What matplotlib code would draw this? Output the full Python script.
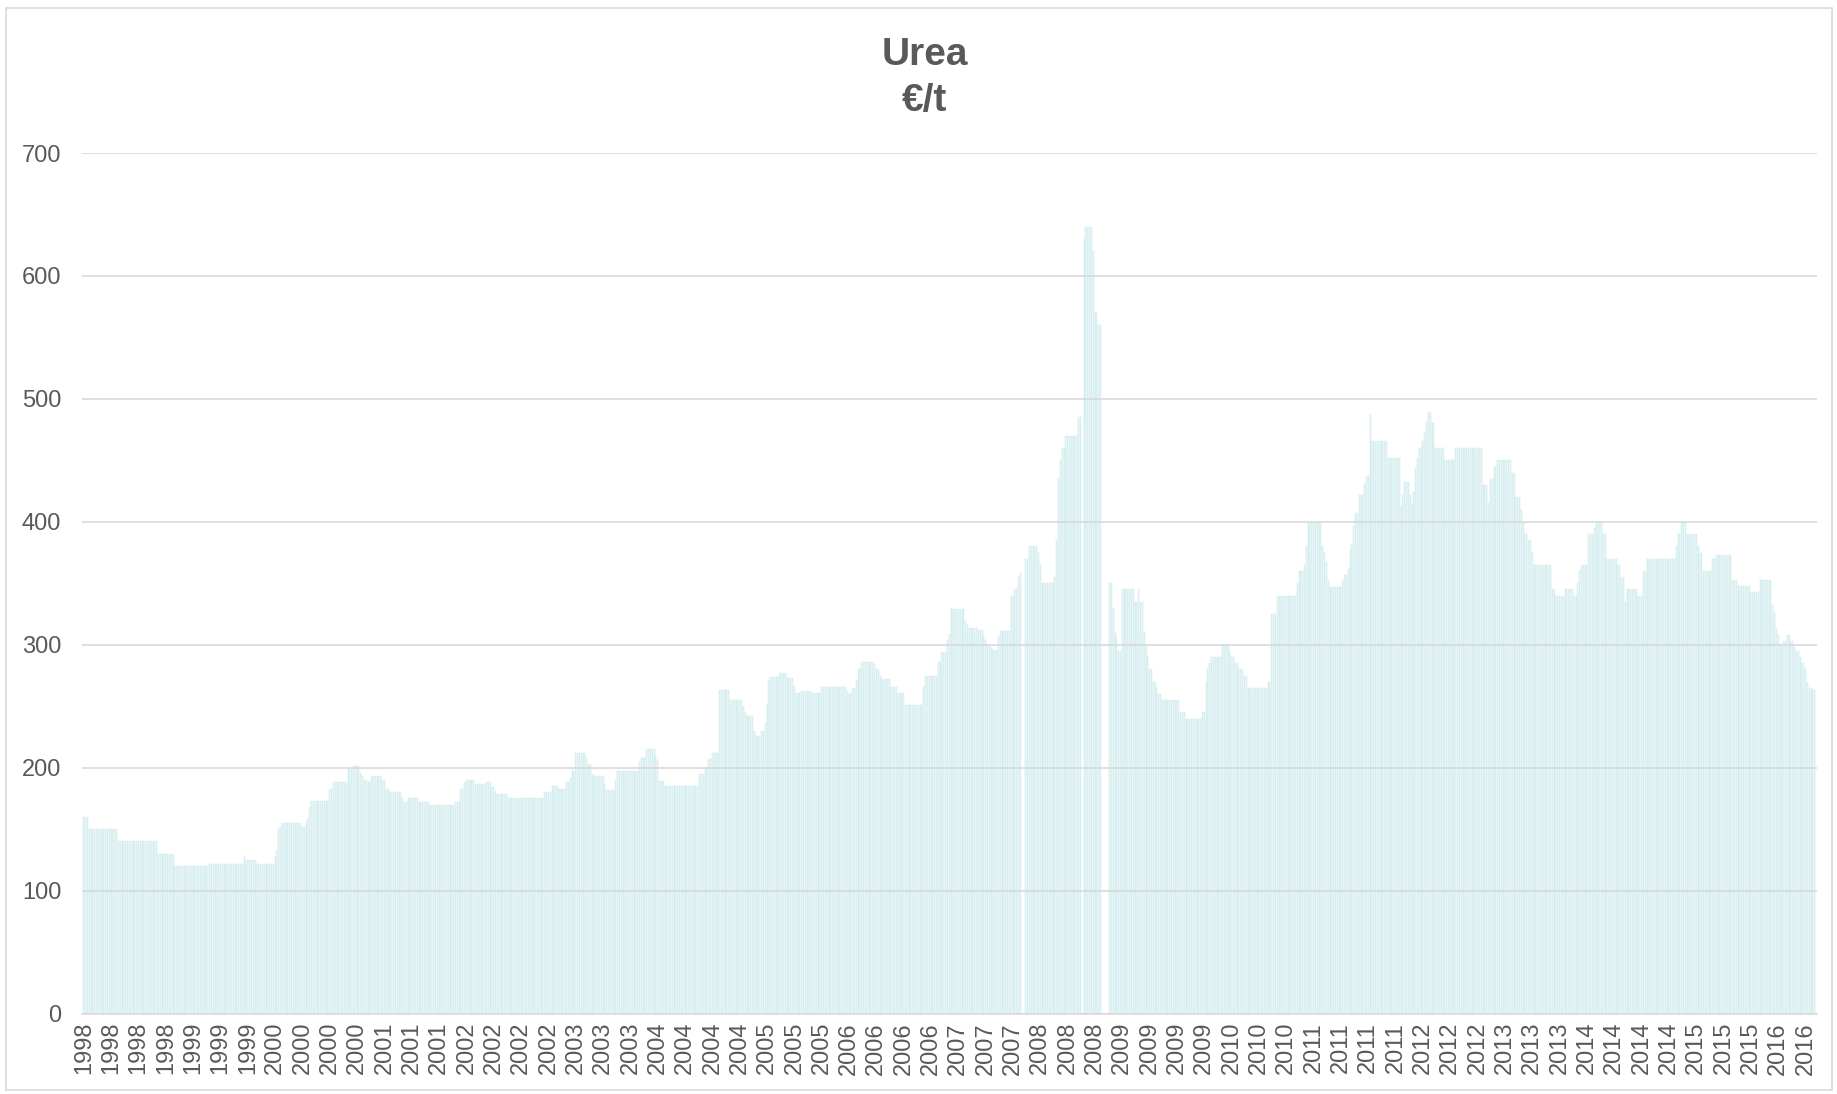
import numpy as np
import matplotlib
matplotlib.use("Agg")
import matplotlib.pyplot as plt
from matplotlib.patches import Rectangle

# weekly urea price in EUR/t, as (price, number of weeks at that price)
price_runs = [
    (160, 3), (150, 16), (140, 22), (130, 9), (120, 19), (122, 19), (127, 1), (125, 6),
    (122, 10), (127, 1), (132, 1), (150, 1), (152, 1), (155, 11), (152, 2), (155, 1),
    (158, 1), (168, 1), (173, 10), (183, 2), (188, 8), (199, 3), (201, 4), (196, 1),
    (193, 1), (190, 2), (188, 2), (193, 6), (190, 2), (183, 2), (180, 7), (175, 1),
    (172, 2), (175, 6), (172, 6), (170, 14), (172, 3), (183, 2), (188, 1), (190, 5),
    (187, 6), (188, 3), (184, 2), (181, 1), (179, 6), (175, 20), (180, 4), (185, 4),
    (183, 4), (188, 2), (192, 1), (197, 2), (212, 6), (208, 1), (203, 2), (195, 1),
    (193, 6), (187, 1), (182, 5), (190, 1), (197, 12), (205, 1), (208, 3), (215, 5),
    (209, 1), (206, 1), (189, 3), (185, 19), (195, 3), (200, 2), (207, 2), (212, 4),
    (263, 6), (255, 7), (250, 1), (245, 1), (242, 4), (230, 1), (226, 3), (230, 2),
    (236, 1), (251, 1), (271, 1), (274, 5), (277, 4), (273, 4), (266, 1), (261, 3),
    (262, 6), (261, 5), (266, 14), (262, 1), (260, 2), (265, 2), (271, 1), (280, 2),
    (286, 7), (284, 1), (280, 2), (275, 1), (272, 5), (266, 4), (261, 4), (251, 10),
    (266, 1), (275, 7), (286, 2), (294, 3), (304, 1), (309, 1), (329, 8), (319, 1),
    (316, 1), (314, 5), (312, 3), (307, 1), (304, 1), (300, 1), (299, 1), (297, 1),
    (296, 3), (306, 1), (311, 6), (340, 2), (345, 2), (355, 1), (358, 1), (0, 2),
    (370, 2), (380, 5), (375, 1), (365, 1), (350, 7), (355, 1), (385, 1), (435, 1),
    (450, 1), (460, 2), (470, 7), (485, 2), (0, 1), (630, 1), (640, 4), (620, 1),
    (570, 2), (560, 2), (0, 4), (350, 2), (330, 1), (310, 1), (305, 1), (295, 2),
    (345, 7), (335, 2), (345, 1), (335, 2), (310, 1), (300, 1), (290, 1), (280, 2),
    (270, 2), (265, 1), (260, 2), (255, 10), (245, 3), (240, 9), (245, 2), (270, 1),
    (280, 1), (285, 1), (290, 6), (300, 4), (295, 1), (290, 2), (285, 2), (280, 3),
    (275, 2), (265, 11), (270, 2), (325, 3), (340, 11), (350, 1), (360, 3), (365, 1),
    (380, 1), (399, 8), (380, 1), (375, 1), (367, 1), (352, 1), (347, 7), (352, 1),
    (357, 2), (362, 1), (377, 1), (382, 1), (397, 1), (407, 2), (422, 3), (431, 1),
    (437, 2), (487, 1), (466, 9), (452, 7), (412, 1), (422, 1), (432, 3), (422, 1),
    (414, 1), (424, 1), (444, 1), (452, 1), (460, 2), (466, 1), (472, 1), (481, 1),
    (489, 2), (480, 2), (460, 5), (450, 6), (460, 15), (430, 3), (415, 1), (435, 2),
    (445, 2), (450, 8), (440, 2), (420, 3), (410, 1), (400, 1), (390, 2), (385, 2),
    (375, 1), (365, 10), (345, 2), (340, 5), (345, 5), (340, 2), (350, 1), (360, 1),
    (365, 4), (390, 3), (395, 1), (400, 4), (390, 2), (370, 6), (365, 2), (355, 2),
    (335, 1), (345, 6), (340, 3), (360, 2), (370, 16), (380, 1), (390, 2), (400, 3),
    (390, 6), (380, 1), (375, 2), (360, 5), (370, 2), (373, 9), (353, 3), (348, 7),
    (343, 5), (353, 7), (332, 1), (327, 1), (313, 1), (308, 1), (300, 2), (303, 2),
    (308, 2), (303, 2), (298, 1), (295, 2), (290, 1), (285, 2), (280, 1), (270, 1),
    (265, 2), (263, 2),
]

year_labels = [
    "1998", "1998", "1998", "1998", "1999", "1999", "1999",
    "2000", "2000", "2000", "2000", "2001", "2001", "2001",
    "2002", "2002", "2002", "2002", "2003", "2003", "2003",
    "2004", "2004", "2004", "2004", "2005", "2005", "2005",
    "2006", "2006", "2006", "2006", "2007", "2007", "2007",
    "2008", "2008", "2008", "2009", "2009", "2009", "2009",
    "2010", "2010", "2010", "2011", "2011", "2011", "2011",
    "2012", "2012", "2012", "2013", "2013", "2013",
    "2014", "2014", "2014", "2014", "2015", "2015", "2015",
    "2016", "2016",
]
LABEL_EVERY = 15  # one year label every 15 weeks

TEXT = "#595959"
GRID = "#d9d9d9"

prices = np.repeat([p for p, n in price_runs], [n for p, n in price_runs]).astype(float)
weeks = np.arange(len(prices))

plt.rcParams["font.family"] = ["Liberation Sans", "DejaVu Sans"]

fig = plt.figure(figsize=(18.37, 10.94), dpi=100)
fig.patches.append(Rectangle((6 / 1837, 4 / 1094), 1826 / 1837, 1082 / 1094,
                             transform=fig.transFigure, fill=False,
                             edgecolor=GRID, linewidth=1.2))

ax = fig.add_axes([82 / 1837, 80.4 / 1094, 1734.5 / 1837, 860.6 / 1094])
ax.bar(weeks, prices, width=0.55, color="#ebf7f8", edgecolor="#c6e7ea",
       linewidth=0.35, zorder=1)

ax.set_xlim(-1, len(prices))
ax.set_ylim(0, 700)
ax.set_yticks(np.arange(0, 701, 100))
ax.yaxis.grid(True, color=GRID, linewidth=1.2, zorder=2)
ax.set_axisbelow(False)

ax.set_xticks(weeks[::LABEL_EVERY][:len(year_labels)])
ax.set_xticklabels(year_labels, rotation=90)
ax.tick_params(axis="x", length=0, pad=6, labelsize=17, labelcolor=TEXT)
ax.tick_params(axis="y", length=0, pad=15, labelsize=17, labelcolor=TEXT)

for side in ("top", "right", "left"):
    ax.spines[side].set_visible(False)
ax.spines["bottom"].set_color(GRID)
ax.spines["bottom"].set_linewidth(1.2)

fig.text(925 / 1837, 1 - 65 / 1094, "Urea", ha="center", va="baseline",
         fontsize=28, fontweight="bold", color=TEXT)
fig.text(925 / 1837, 1 - 111 / 1094, "€/t", ha="center", va="baseline",
         fontsize=28, fontweight="bold", color=TEXT)

fig.savefig("out.png", dpi=100)
